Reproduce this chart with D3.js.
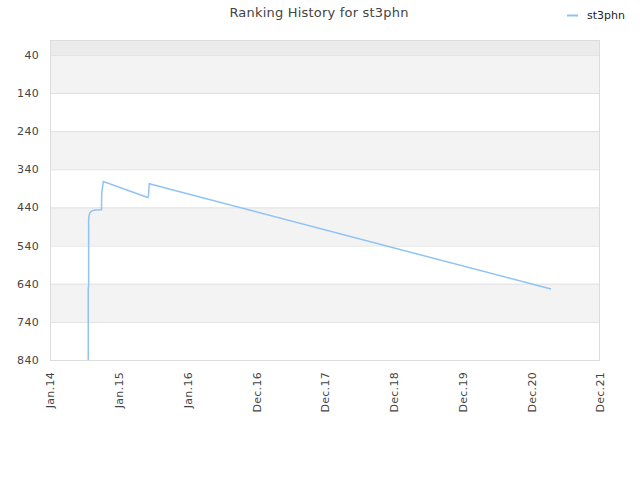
<!DOCTYPE html>
<html><head><meta charset="utf-8">
<script src="https://cdn.jsdelivr.net/npm/d3@7"></script>
<style>body{margin:0;background:#fff;}svg{display:block;font-family:"DejaVu Sans",sans-serif;}</style>
</head><body>
<svg id="c" width="640" height="480"></svg>
<script>
const seriesName = "st3phn";
const dates = ["2014-08-04","2014-08-04","2014-08-06","2014-08-06","2014-08-09","2014-08-13","2014-08-23","2014-09-08","2014-10-12","2014-10-13","2014-10-14","2014-10-22","2015-06-11","2015-06-15","2015-06-19","2021-03-20"];
const ranks = [840,652,645,470,460,454,449,447,446,420,400,372,414,410,378,654];
const yTicks = [40,140,240,340,440,540,640,740,840];
const xTickLabels = ["Jan.14","Jan.15","Jan.16","Dec.16","Dec.17","Dec.18","Dec.19","Dec.20","Dec.21"];
const xDomain = ["2014-01-16","2021-12-01"];
const yDomain = [1,840];

const svg = d3.select("#c");
const m = {l:50, r:40, t:40, b:120};
const W = 640, H = 480;
const parse = d3.utcParse("%Y-%m-%d");
const x = d3.scaleUtc().domain(xDomain.map(parse)).range([m.l, W-m.r]);
const y = d3.scaleLinear().domain(yDomain).range([m.t, H-m.b]);
const data = dates.map((d,i)=>({d:parse(d), r:ranks[i]}));

// bands
const bounds = [yDomain[0], ...yTicks];
for (let i=0;i<bounds.length-1;i++){
  const fill = i===0 ? "#ebebeb" : (i%2===1 ? "#f3f3f3" : "#ffffff");
  svg.append("rect").attr("x",m.l).attr("width",W-m.r-m.l)
    .attr("y",y(bounds[i])).attr("height",y(bounds[i+1])-y(bounds[i])).attr("fill",fill);
}
// grid lines
svg.append("g").selectAll("line").data(yTicks).join("line")
  .attr("x1",m.l).attr("x2",W-m.r).attr("y1",d=>y(d)+0.5).attr("y2",d=>y(d)+0.5)
  .attr("stroke","#e0e0e0");
// border
svg.append("rect").attr("x",m.l+0.5).attr("y",m.t+0.5).attr("width",W-m.r-m.l-1).attr("height",H-m.b-m.t)
  .attr("fill","none").attr("stroke","#dcdcdc");

// y axis labels
const ya = svg.append("g").attr("transform",`translate(${m.l},0)`)
  .call(d3.axisLeft(y).tickValues(yTicks).tickSize(0).tickPadding(11));
ya.select(".domain").remove();
ya.selectAll("text").attr("fill","#444").style("font-size","11px").style("letter-spacing","0.3px").style("font-family","DejaVu Sans, sans-serif");

// x axis
const x0 = x.domain()[0].getTime(), x1 = x.domain()[1].getTime();
const xTickVals = xTickLabels.map((_,i)=>new Date(x0 + (x1-x0)*i/(xTickLabels.length-1)));
const xa = svg.append("g").attr("transform",`translate(0,${H-m.b})`)
  .call(d3.axisBottom(x).tickValues(xTickVals).tickSize(0).tickFormat((d,i)=>xTickLabels[i]));
xa.select(".domain").remove();
xa.selectAll("text").attr("fill","#444").style("font-size","11px").style("letter-spacing","0.3px").style("font-family","DejaVu Sans, sans-serif")
  .attr("transform","rotate(-90)").attr("text-anchor","end").attr("dx","-12px").attr("dy","0.35em").attr("y",0).attr("x",0);

// line
svg.append("path").datum(data)
  .attr("d", d3.line().x(d=>x(d.d)).y(d=>y(d.r)))
  .attr("fill","none").attr("stroke","#90c3f5").attr("stroke-width",1.5);

// title
svg.append("text").attr("x",319).attr("y",17).attr("text-anchor","middle")
  .attr("fill","#444").style("font-size","13px").style("letter-spacing","0.2px").text("Ranking History for " + seriesName);

// legend
svg.append("line").attr("x1",567).attr("x2",578).attr("y1",15.5).attr("y2",15.5)
  .attr("stroke","#90c3f5").attr("stroke-width",2);
svg.append("text").attr("x",587).attr("y",19).attr("fill","#222").style("font-size","11px").text(seriesName);
</script>
</body></html>
